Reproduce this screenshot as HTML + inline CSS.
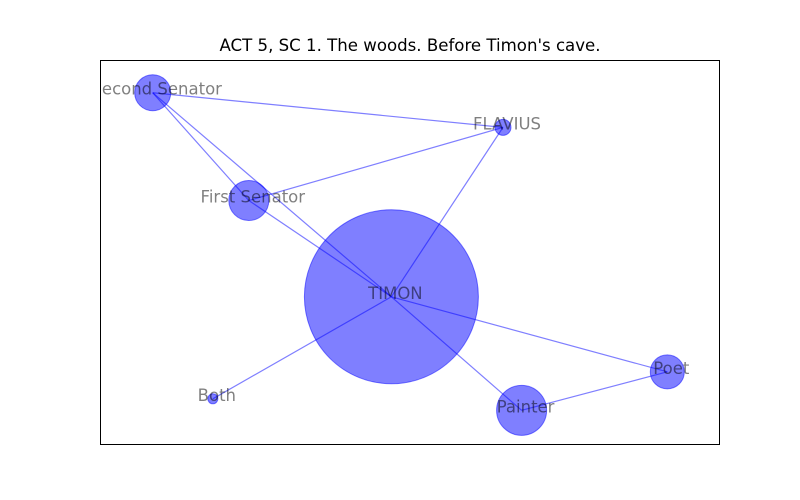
<!DOCTYPE html>
<html><head><meta charset="utf-8"><style>
body{margin:0;background:#fff;width:800px;height:500px;overflow:hidden}
svg{display:block}
text{font-family:"DejaVu Sans","Liberation Sans",sans-serif}
</style></head><body>
<svg id="chart" width="800" height="500">
<defs><clipPath id="axclip"><rect x="100" y="60" width="620" height="385"/></clipPath></defs>
<rect x="0" y="0" width="800" height="500" fill="#fff"/>
<text x="410" y="51" text-anchor="middle" font-size="16.6" fill="#000">ACT 5, SC 1. The woods. Before Timon's cave.</text>
<g id="edges" clip-path="url(#axclip)"></g><g id="nodes" clip-path="url(#axclip)"></g><g id="labels" clip-path="url(#axclip)"></g>
<rect x="100.5" y="60.5" width="619" height="384" fill="none" stroke="#000" stroke-width="1"/>
</svg>
<script>
const names = ["TIMON","Second Senator","FLAVIUS","First Senator","Both","Painter","Poet"];
const xs = [0.47, 0.085, 0.65, 0.24, 0.182, 0.68, 0.915];
const ys = [0.385, 0.915, 0.825, 0.635, 0.12, 0.09, 0.19];
const radii = [87, 18, 8, 20, 5, 25, 17];
const edgeFrom = ["Second Senator","Second Senator","Second Senator","First Senator","First Senator","FLAVIUS","Both","TIMON","TIMON","Painter"];
const edgeTo = ["First Senator","TIMON","FLAVIUS","TIMON","FLAVIUS","TIMON","TIMON","Painter","Poet","Poet"];

const X0=100, W=620, Y0=60, H=385;
const sx = v => X0 + v*W;
const sy = v => Y0 + H - v*H;
const NS="http://www.w3.org/2000/svg";
const eg=document.getElementById('edges'), ng=document.getElementById('nodes'), lg=document.getElementById('labels');
const idx = n => names.indexOf(n);
edgeFrom.forEach((a,i)=>{
  const p=idx(a), q=idx(edgeTo[i]);
  const l=document.createElementNS(NS,'line');
  l.setAttribute('x1',sx(xs[p]));l.setAttribute('y1',sy(ys[p]));
  l.setAttribute('x2',sx(xs[q]));l.setAttribute('y2',sy(ys[q]));
  l.setAttribute('stroke','rgba(0,0,255,0.5)');l.setAttribute('stroke-width','1.2');
  
  
  eg.appendChild(l);
});
names.forEach((n,i)=>{
  const c=document.createElementNS(NS,'circle');
  c.setAttribute('cx',sx(xs[i]));c.setAttribute('cy',sy(ys[i]));c.setAttribute('r',radii[i]);
  c.setAttribute('fill','rgba(0,0,255,0.5)');c.setAttribute('stroke','rgba(0,0,255,0.5)');c.setAttribute('stroke-width','1');
  
  
  ng.appendChild(c);
  const t=document.createElementNS(NS,'text');
  t.setAttribute('x',sx(xs[i])+4);t.setAttribute('y',sy(ys[i])+2);
  t.setAttribute('text-anchor','middle');t.setAttribute('font-size','16.5');
  t.setAttribute('fill','rgba(0,0,0,0.5)');
  t.textContent=n;
  
  
  lg.appendChild(t);
});
</script>
</body></html>
